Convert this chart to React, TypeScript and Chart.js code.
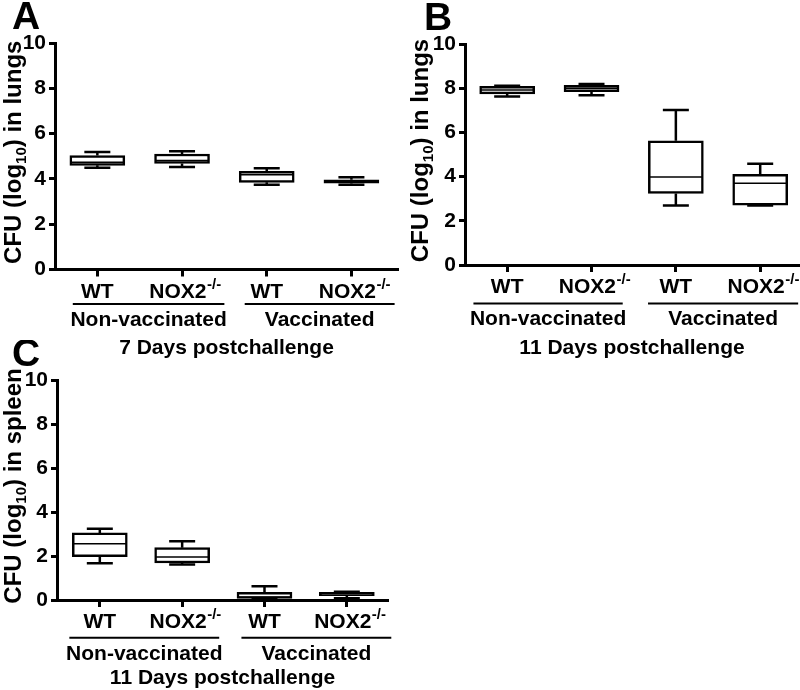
import React, { useEffect, useRef } from "react";
import { Chart, registerables } from "chart.js";

Chart.register(...registerables);

// ---------- data ----------
const categories = ["WT", "NOX2", "WT", "NOX2"];
const categorySup = ["", "-/-", "", "-/-"];
const groupNames = ["Non-vaccinated", "Vaccinated"];
const positions = [1, 2, 3, 4];
const yTickValues = [0, 2, 4, 6, 8, 10];

// Panel A: lungs, 7 days postchallenge
const aMin = [4.49, 4.53, 3.74, 3.74];
const aQ1 = [4.6, 4.68, 3.85, 3.81];
const aMed = [4.74, 4.81, 4.18, 3.88];
const aQ3 = [5.03, 5.1, 4.33, 3.96];
const aMax = [5.19, 5.22, 4.47, 4.07];

// Panel B: lungs, 11 days postchallenge
const bMin = [7.62, 7.68, 2.69, 2.69];
const bQ1 = [7.74, 7.84, 3.24, 2.71];
const bMed = [7.92, 8.0, 3.98, 3.7];
const bQ3 = [8.08, 8.13, 5.62, 4.1];
const bMax = [8.11, 8.19, 7.01, 4.58];

// Panel C: spleen, 11 days postchallenge
const cMin = [1.67, 1.61, 0.03, 0.08];
const cQ1 = [1.97, 1.68, 0.07, 0.2];
const cMed = [2.56, 1.95, 0.12, 0.28];
const cQ3 = [3.05, 2.38, 0.35, 0.35];
const cMax = [3.24, 2.67, 0.62, 0.37];

const FONT = "'Liberation Sans', Arial, sans-serif";

type Panel = {
  letter: string;
  organ: string;
  footer: string;
  min: number[];
  q1: number[];
  med: number[];
  q3: number[];
  max: number[];
  left: number;
  top: number;
  w: number;
  h: number;
  area: { l: number; r: number; t: number; b: number };
  xMin: number;
  xMax: number;
  letterPos: [number, number];
  titleX: number;
  spans: [number, number][];
  lineOff: number;
  groupOff: number;
  footerOff: number;
};

const panels: Panel[] = [
  {
    letter: "A", organ: "in lungs", footer: "7 Days postchallenge",
    min: aMin, q1: aQ1, med: aMed, q3: aQ3, max: aMax,
    left: 0, top: 0, w: 400, h: 360,
    area: { l: 55, r: 398, t: 43, b: 269.5 },
    xMin: 0.5, xMax: 4.55, letterPos: [12, 29], titleX: 21,
    spans: [[0.71, 2.5], [2.74, 4.51]],
    lineOff: 34.5, groupOff: 56, footerOff: 84,
  },
  {
    letter: "B", organ: "in lungs", footer: "11 Days postchallenge",
    min: bMin, q1: bQ1, med: bMed, q3: bQ3, max: bMax,
    left: 400, top: 0, w: 400, h: 360,
    area: { l: 65, r: 399, t: 44, b: 265 },
    xMin: 0.5, xMax: 4.46, letterPos: [24, 30], titleX: 28,
    spans: [[0.6, 2.37], [2.67, 4.45]],
    lineOff: 38.5, groupOff: 60, footerOff: 89,
  },
  {
    letter: "C", organ: "in spleen", footer: "11 Days postchallenge",
    min: cMin, q1: cQ1, med: cMed, q3: cQ3, max: cMax,
    left: 0, top: 340, w: 400, h: 350,
    area: { l: 57, r: 388, t: 40, b: 260 },
    xMin: 0.48, xMax: 4.5, letterPos: [12, 26], titleX: 21,
    spans: [[0.63, 2.45], [2.72, 4.54]],
    lineOff: 37.7, groupOff: 60, footerOff: 84,
  },
];

function makeBoxPlugin(p: Panel) {
  return {
    id: "boxParts" + p.letter,
    beforeDatasetsDraw(chart: any) {
      const { ctx, scales } = chart;
      const xs = scales.x, ys = scales.y;
      ctx.save();
      ctx.strokeStyle = "#000";
      ctx.lineWidth = 2.5;
      const cap = 13;
      positions.forEach((pos, i) => {
        const x = xs.getPixelForValue(pos);
        const yMax = ys.getPixelForValue(p.max[i]);
        const yQ3 = ys.getPixelForValue(p.q3[i]);
        const yQ1 = ys.getPixelForValue(p.q1[i]);
        const yMin = ys.getPixelForValue(p.min[i]);
        ctx.beginPath();
        ctx.moveTo(x, yQ3); ctx.lineTo(x, yMax);
        ctx.moveTo(x - cap, yMax); ctx.lineTo(x + cap, yMax);
        ctx.moveTo(x, yQ1); ctx.lineTo(x, yMin);
        ctx.moveTo(x - cap, yMin); ctx.lineTo(x + cap, yMin);
        ctx.stroke();
      });
      ctx.restore();
    },
    afterDatasetsDraw(chart: any) {
      const { ctx, scales } = chart;
      const xs = scales.x, ys = scales.y;
      ctx.save();
      ctx.strokeStyle = "#000";
      ctx.lineWidth = 1.5;
      const half = 27;
      positions.forEach((pos, i) => {
        const x = xs.getPixelForValue(pos);
        const y = ys.getPixelForValue(p.med[i]);
        ctx.beginPath();
        ctx.moveTo(x - half, y); ctx.lineTo(x + half, y);
        ctx.stroke();
      });
      ctx.restore();
    },
    afterDraw(chart: any) {
      const { ctx, scales, chartArea } = chart;
      const xs = scales.x;
      const base = chartArea.bottom;
      ctx.save();
      ctx.fillStyle = "#000";
      ctx.strokeStyle = "#000";
      ctx.textBaseline = "alphabetic";

      ctx.font = `bold 39px ${FONT}`;
      ctx.textAlign = "left";
      ctx.fillText(p.letter, p.letterPos[0], p.letterPos[1]);

      const mainFont = `bold 21px ${FONT}`;
      const supFont = `bold 15px ${FONT}`;
      positions.forEach((pos, i) => {
        const x = xs.getPixelForValue(pos);
        ctx.font = mainFont;
        const w1 = ctx.measureText(categories[i]).width;
        ctx.font = supFont;
        const w2 = categorySup[i] ? ctx.measureText(categorySup[i]).width : 0;
        const start = x - (w1 + w2) / 2 + (categorySup[i] ? 3 : 0);
        ctx.textAlign = "left";
        ctx.font = mainFont;
        ctx.fillText(categories[i], start, base + 28);
        if (categorySup[i]) {
          ctx.font = supFont;
          ctx.fillText(categorySup[i], start + w1 + 0.5, base + 19);
        }
      });

      ctx.lineWidth = 2;
      ctx.textAlign = "center";
      ctx.font = `bold 21px ${FONT}`;
      p.spans.forEach((s, gi) => {
        const x1 = xs.getPixelForValue(s[0]);
        const x2 = xs.getPixelForValue(s[1]);
        ctx.beginPath();
        ctx.moveTo(x1, base + p.lineOff);
        ctx.lineTo(x2, base + p.lineOff);
        ctx.stroke();
        ctx.fillText(groupNames[gi], (x1 + x2) / 2, base + p.groupOff);
      });

      ctx.fillText(p.footer, (chartArea.left + chartArea.right) / 2, base + p.footerOff);

      const cy = (chartArea.top + chartArea.bottom) / 2 - 4;
      ctx.translate(p.titleX, cy);
      ctx.rotate(-Math.PI / 2);
      const tFont = `bold 24px ${FONT}`;
      const sFont = `bold 15px ${FONT}`;
      const t1 = "CFU (log";
      const t2 = "10";
      const t3 = ") " + p.organ;
      ctx.font = tFont;
      const w1 = ctx.measureText(t1).width;
      const w3 = ctx.measureText(t3).width;
      ctx.font = sFont;
      const w2 = ctx.measureText(t2).width;
      let xx = -(w1 + w2 + w3) / 2;
      ctx.textAlign = "left";
      ctx.font = tFont;
      ctx.fillText(t1, xx, 0);
      xx += w1;
      ctx.font = sFont;
      ctx.fillText(t2, xx, 5);
      xx += w2;
      ctx.font = tFont;
      ctx.fillText(t3, xx, 0);
      ctx.restore();
    },
  };
}

function BoxPanel({ p }: { p: Panel }) {
  const ref = useRef<HTMLCanvasElement | null>(null);
  useEffect(() => {
    if (!ref.current) return;
    const chart = new Chart(ref.current, {
      type: "bar",
      data: {
        datasets: [
          {
            data: positions.map((pos, i) => ({ x: pos, y: [p.q1[i], p.q3[i]] })) as any,
            backgroundColor: "#ffffff",
            borderColor: "#000000",
            borderWidth: 2.5,
            borderSkipped: false,
            barThickness: 55,
          } as any,
        ],
      },
      options: {
        responsive: false,
        animation: false,
        devicePixelRatio: 1,
        layout: {
          padding: { left: 0, top: p.area.t, right: p.w - p.area.r, bottom: 0 },
        },
        plugins: { legend: { display: false }, tooltip: { enabled: false } },
        scales: {
          x: {
            type: "linear",
            min: p.xMin,
            max: p.xMax,
            offset: false,
            afterBuildTicks: (axis: any) => {
              axis.ticks = positions.map((v) => ({ value: v }));
            },
            afterFit: (axis: any) => {
              axis.height = p.h - p.area.b;
            },
            ticks: { display: false },
            grid: {
              offset: false,
              drawOnChartArea: false,
              drawTicks: true,
              tickLength: 7,
              tickWidth: 3,
              tickColor: "#000",
            },
            border: { display: true, width: 3, color: "#000" },
          },
          y: {
            type: "linear",
            min: 0,
            max: 10,
            afterBuildTicks: (axis: any) => {
              axis.ticks = yTickValues.map((v) => ({ value: v }));
            },
            afterFit: (axis: any) => {
              axis.width = p.area.l;
            },
            ticks: {
              color: "#000",
              padding: 3,
              font: { family: FONT, size: 21, weight: "bold" },
            },
            grid: {
              drawOnChartArea: false,
              drawTicks: true,
              tickLength: 6,
              tickWidth: 3,
              tickColor: "#000",
            },
            border: { display: true, width: 3, color: "#000" },
          },
        },
      } as any,
      plugins: [makeBoxPlugin(p)],
    });
    return () => chart.destroy();
  }, [p]);
  return (
    <canvas
      ref={ref}
      width={p.w}
      height={p.h}
      style={{ position: "absolute", left: p.left, top: p.top, width: p.w, height: p.h }}
    />
  );
}

export default function App() {
  return (
    <div style={{ position: "absolute", left: 0, top: 0, width: 800, height: 690, background: "#fff" }}>
      {panels.map((p) => (
        <BoxPanel key={p.letter} p={p} />
      ))}
    </div>
  );
}
